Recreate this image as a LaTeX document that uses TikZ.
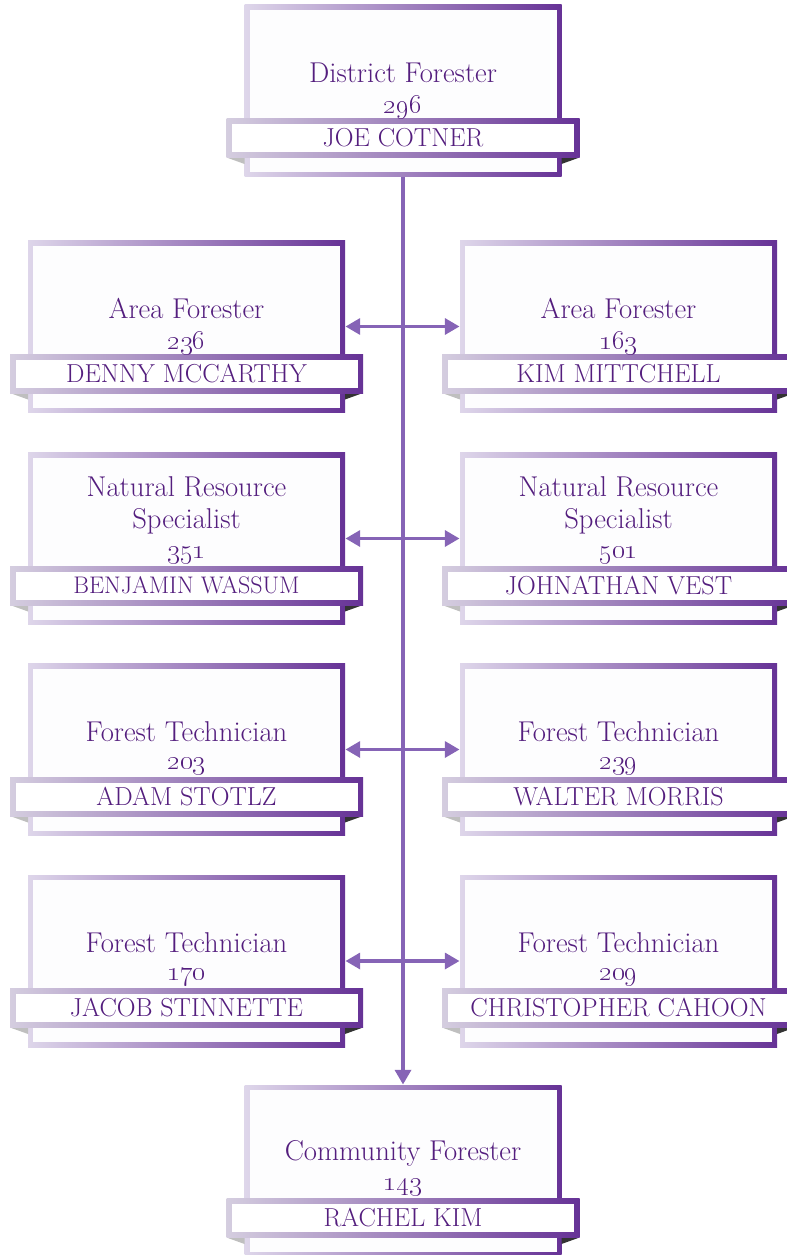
\documentclass[tikz,border=0pt]{standalone}
\usetikzlibrary{arrows.meta}

\definecolor{lavlight}{RGB}{222,214,234}
\definecolor{lavdark}{RGB}{102,50,150}
\definecolor{plumtext}{RGB}{84,30,126}
\definecolor{linkpurple}{RGB}{134,100,182}
\definecolor{paper}{RGB}{253,253,254}

\tikzset{every picture/.style={line width=0.75pt}}
\tikzset{
  cardframe/.style={rectangle, inner sep=0pt, minimum width=237.75pt, minimum height=129pt, left color=lavlight, right color=lavdark},
  cardinner/.style={rectangle, inner sep=0pt, minimum width=230.25pt, minimum height=121.5pt, fill=paper},
  ribbon/.style={rectangle, inner sep=0pt, minimum width=264.75pt, minimum height=29.25pt, left color=lavlight!90!gray, right color=lavdark},
  ribboninner/.style={rectangle, inner sep=0pt, minimum width=256.5pt, minimum height=21pt, fill=white},
  roletext/.style={align=center, text=plumtext, font=\fontsize{21.5}{24}\selectfont},
  numtext/.style={text=plumtext, font=\fontsize{22}{24}\selectfont},
  persontext/.style={text=plumtext, font=\fontsize{19.5}{22}\selectfont},
  link/.style={draw=linkpurple, line width=2.5pt},
  tip/.tip={Triangle[length=11pt, width=12pt]}
}

% #1 node name, #2 x, #3 y, #4 role, #5 role offset, #6 number, #7 person
\newcommand{\orgcard}[7]{%
  \node[cardframe] (#1) at (#2,#3) {};
  \node[cardinner] (#1-in) at (#1) {};
  % ribbon folds
  \fill[gray!50] ({#2-176.5},{#3+66.5}) -- ({#2-158.5},{#3+66.5}) -- ({#2-158.5},{#3+73}) -- cycle;
  \fill[black!80] ({#2+176.5},{#3+66.5}) -- ({#2+158.5},{#3+66.5}) -- ({#2+158.5},{#3+73}) -- cycle;
  \node[ribbon] (#1-rib) at (#2,{#3+47}) {};
  \node[ribboninner] (#1-ribin) at (#1-rib) {};
  % Text Node
  \node[roletext] (#1-role) at (#2,{#3+#5}) {#4};
  \node[numtext] (#1-num) at (#2,{#3+16.5}) {\oldstylenums{#6}};
  \node[persontext] (#1-name) at (#1-rib) {#7};
}

\begin{document}
\begin{tikzpicture}[x=0.75pt,y=0.75pt,yscale=-1,xscale=1]
\useasboundingbox (0,0) rectangle (786,1255);

%Cards
\orgcard{df}{403}{91}{District Forester}{-18}{296}{JOE COTNER}
\orgcard{af1}{186.5}{326.5}{Area Forester}{-18}{236}{DENNY MCCARTHY}
\orgcard{af2}{618.5}{326.5}{Area Forester}{-18}{163}{KIM MITTCHELL}
\orgcard{nrs1}{186.5}{538.5}{Natural Resource\\Specialist}{-33.5}{351}{{\fontsize{18}{20}\selectfont BENJAMIN WASSUM}}
\orgcard{nrs2}{618.5}{538.5}{Natural Resource\\Specialist}{-33.5}{501}{JOHNATHAN VEST}
\orgcard{ft1}{186.5}{749.5}{Forest Technician}{-18}{203}{ADAM STOTLZ}
\orgcard{ft2}{618.5}{749.5}{Forest Technician}{-18}{239}{WALTER MORRIS}
\orgcard{ft3}{186.5}{961}{Forest Technician}{-18}{170}{JACOB STINNETTE}
\orgcard{ft4}{618.5}{961}{Forest Technician}{-18}{209}{CHRISTOPHER CAHOON}
\orgcard{cf}{403}{1171}{Community Forester}{-18}{143}{RACHEL KIM}

%Straight Lines
\draw[link, -tip] (df) -- (cf);
\draw[link, tip-tip] (af1) -- (af2);
\draw[link, tip-tip] (nrs1) -- (nrs2);
\draw[link, tip-tip] (ft1) -- (ft2);
\draw[link, tip-tip] (ft3) -- (ft4);

\end{tikzpicture}
\end{document}
